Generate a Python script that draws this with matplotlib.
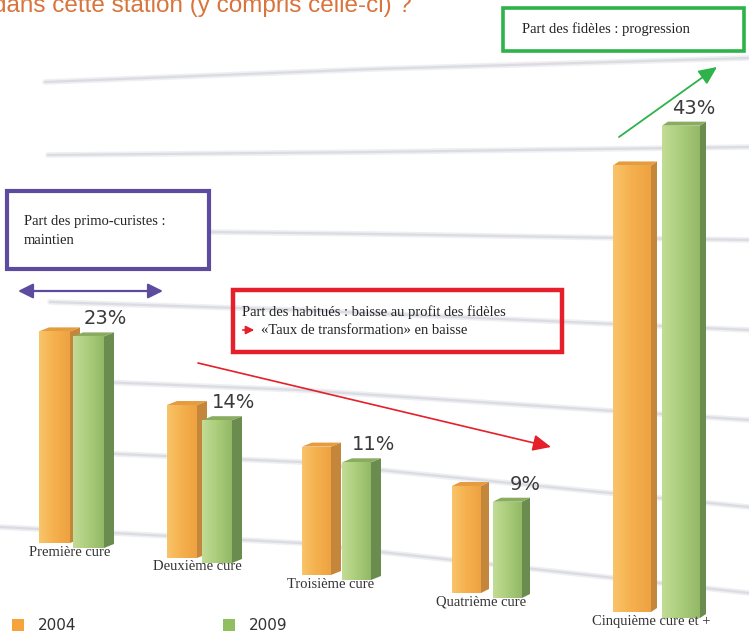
import numpy as np
import matplotlib
matplotlib.use("Agg")
import matplotlib.pyplot as plt
from matplotlib.patches import Rectangle, Polygon, Patch
from matplotlib.colors import LinearSegmentedColormap

# --- data ---
categories = ["Première cure", "Deuxième cure", "Troisième cure",
              "Quatrième cure", "Cinquième cure et +"]
series = ["2004", "2009"]
values_2004 = [23, 15, 12, 10, 39]
values_2009 = [23, 14, 11, 9, 43]
labels_2009 = ["23%", "14%", "11%", "9%", "43%"]

# --- perspective layout (canvas pixels) ---
left_2004 = [39, 167, 302, 452, 613]
left_2009 = [73, 202, 342, 493, 662]
base_2004 = [543, 558, 575, 593, 612]
base_2009 = [548, 563, 580, 598, 618]
px_per_pct = [9.2, 10.2, 10.7, 10.7, 11.45]
front_w = [31, 30, 29, 29, 38]
side_w = [10, 10, 10, 8, 6]

grid_lines = [
    [(45, 82), (374, 69), (749, 58)],
    [(48, 155), (374, 152), (749, 147)],
    [(210, 232), (374, 234), (749, 240)],
    [(50, 302), (300, 310), (749, 330)],
    [(50, 380), (300, 390), (749, 420)],
    [(50, 451), (300, 462), (749, 507)],
    [(0, 527), (300, 543), (749, 593)],
]

orange = {"front": ["#F9C46A", "#F5B04D", "#EEA241"], "side": "#C4863A", "top": "#E49C3F"}
green = {"front": ["#C2DC95", "#AACD7B", "#93B866"], "side": "#6A8C4F", "top": "#89AC60"}

serif = "Liberation Serif"

fig = plt.figure(figsize=(7.49, 6.32), dpi=100)
ax = fig.add_axes([0, 0, 1, 1])
ax.set_xlim(0, 749)
ax.set_ylim(632, 0)
ax.axis("off")

# background grid (soft)
for pts in grid_lines:
    xs, ys = zip(*pts)
    ax.plot(xs, ys, color="#EEEFF2", lw=4, solid_capstyle="round", zorder=1)
    ax.plot(xs, ys, color="#DADCE2", lw=1.6, solid_capstyle="round", zorder=1)


def draw_bars(lefts, bases, values, style):
    cmap = LinearSegmentedColormap.from_list("g", style["front"])
    grad = np.linspace(0, 1, 64).reshape(1, -1)
    heights = [-v * s for v, s in zip(values, px_per_pct)]
    bars = ax.bar(lefts, heights, width=front_w, bottom=bases, align="edge",
                  color=style["front"][1], edgecolor="none", zorder=3)
    for b, sw in zip(bars, side_w):
        x0, y0 = b.get_x(), b.get_y()
        w, h = b.get_width(), b.get_height()
        top = y0 + h
        im = ax.imshow(grad, cmap=cmap, extent=(x0, x0 + w, y0, top),
                       aspect="auto", zorder=3.1)
        im.set_clip_path(b)
        ax.add_patch(Polygon([(x0 + w, y0), (x0 + w, top), (x0 + w + sw, top - 4),
                              (x0 + w + sw, y0 - 4)], closed=True,
                             facecolor=style["side"], edgecolor="none", zorder=3))
        ax.add_patch(Polygon([(x0, top), (x0 + w, top), (x0 + w + sw, top - 4),
                              (x0 + sw, top - 4)], closed=True,
                             facecolor=style["top"], edgecolor="none", zorder=3))
    return bars


draw_bars(left_2004, base_2004, values_2004, orange)
bars09 = draw_bars(left_2009, base_2009, values_2009, green)

# value labels above 2009 bars
for b, lab in zip(bars09, labels_2009):
    ax.text(b.get_x() + 32, b.get_y() + b.get_height() - 12, lab,
            ha="center", va="baseline", fontsize=14, color="#3A3A3A",
            family="DejaVu Sans", zorder=5)

# category labels
for x, w, y, cat in zip(left_2004, front_w, base_2004, categories):
    ax.text(x + w, y + 9, cat, ha="center", va="center", fontsize=10.5,
            color="#333333", family=serif, zorder=5)

# title fragment at the top (cropped in the original)
ax.text(412, 12, "dans cette station (y compris celle-ci) ?", ha="right",
        va="baseline", fontsize=17.5, color="#D8743C", family="Liberation Sans",
        zorder=5)

# annotation boxes
ax.add_patch(Rectangle((503, 8), 241, 43, fill=False, edgecolor="#2DB34A",
                       lw=2.6, zorder=6))
ax.text(522, 29, "Part des fidèles : progression", ha="left", va="center",
        fontsize=10.5, color="#222222", family=serif, zorder=6)

ax.add_patch(Rectangle((7, 191), 202, 78, fill=False, edgecolor="#5C4B9F",
                       lw=3, zorder=6))
ax.text(24, 222, "Part des primo-curistes :", ha="left", va="center",
        fontsize=10.5, color="#222222", family=serif, zorder=6)
ax.text(24, 240, "maintien", ha="left", va="center",
        fontsize=10.5, color="#222222", family=serif, zorder=6)

ax.add_patch(Rectangle((233, 290), 329, 62, fill=False, edgecolor="#E5202A",
                       lw=3.2, zorder=6))
ax.text(242, 312, "Part des habitués : baisse au profit des fidèles", ha="left",
        va="center", fontsize=10.5, color="#222222", family=serif, zorder=6)
ax.text(261, 330, "«Taux de transformation» en baisse", ha="left",
        va="center", fontsize=10.5, color="#222222", family=serif, zorder=6)
ax.annotate("", xy=(257, 330), xytext=(240, 330),
            arrowprops=dict(arrowstyle="-|>,head_length=0.5,head_width=0.25",
                            color="#E5202A", lw=1.2), zorder=6)

# arrows
ax.annotate("", xy=(163, 291), xytext=(18, 291),
            arrowprops=dict(arrowstyle="<|-|>,head_length=0.9,head_width=0.45",
                            color="#5C4B9F", lw=1.6, shrinkA=0, shrinkB=0), zorder=6)
ax.annotate("", xy=(551, 447), xytext=(198, 363),
            arrowprops=dict(arrowstyle="-|>,head_length=1.1,head_width=0.5",
                            color="#E5202A", lw=1.2, shrinkA=0, shrinkB=0), zorder=6)
ax.annotate("", xy=(717, 67), xytext=(619, 137),
            arrowprops=dict(arrowstyle="-|>,head_length=1.1,head_width=0.5",
                            color="#2DB34A", lw=1.3, shrinkA=0, shrinkB=0), zorder=6)

# legend
handles = [Patch(facecolor="#F7A33C", edgecolor="none"),
           Patch(facecolor="#8FBF5E", edgecolor="none")]
leg = ax.legend(handles, series, loc="lower left", bbox_to_anchor=(0.008, -0.012),
                ncol=2, frameon=False, handlelength=0.8, handleheight=0.8,
                handletextpad=0.9, columnspacing=9.6, borderaxespad=0,
                prop={"family": "DejaVu Sans", "size": 11})
for t in leg.get_texts():
    t.set_color("#333333")

fig.savefig("out.png", dpi=100, facecolor="white")
